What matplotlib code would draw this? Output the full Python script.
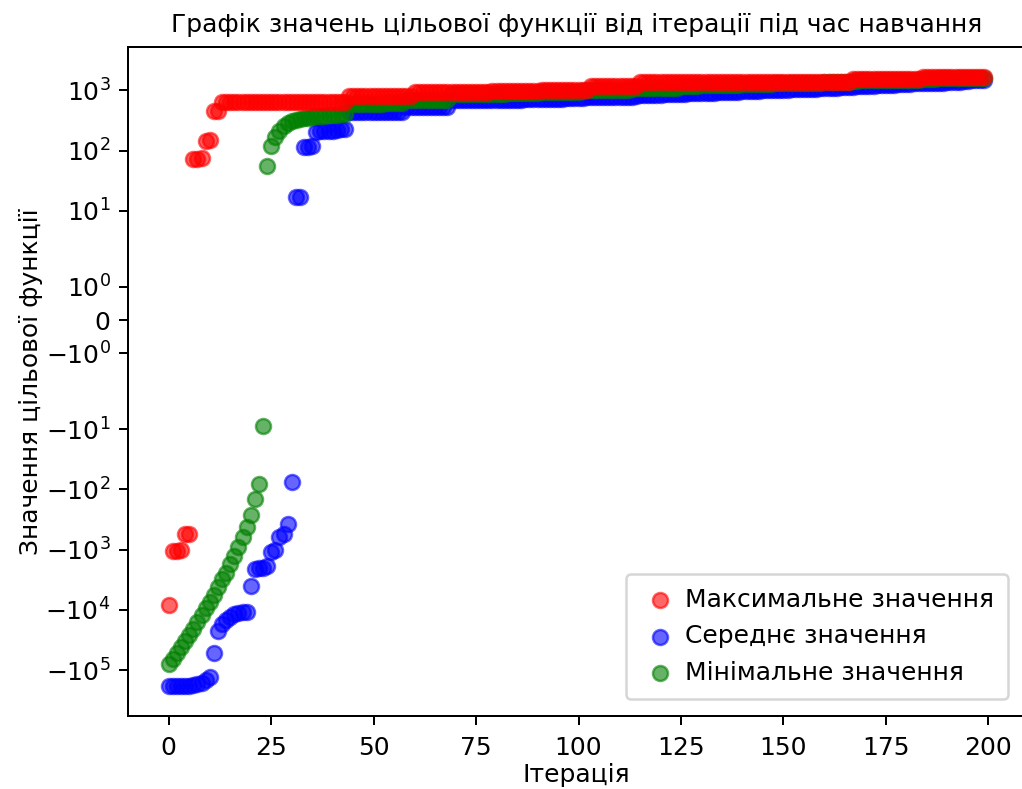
import matplotlib
matplotlib.use('Agg')
import matplotlib.pyplot as plt
import numpy as np

plt.rcParams['font.family'] = ['DejaVu Sans']

iterations = np.arange(200)

# максимальне значення (червоні)
max_values = [
    -8400, -1050, -1050, -1000, -560, -540, 72, 72, 75, 145,
    150, 455, 460, 640, 640, 640, 640, 640, 640, 640,
    640, 640, 640, 640, 640, 640, 640, 640, 640, 640,
    640, 640, 640, 640, 640, 640, 640, 640, 640, 640,
    640, 640, 640, 640, 815, 815, 815, 815, 815, 815,
    815, 815, 815, 815, 815, 815, 815, 815, 815, 815,
    925, 925, 925, 925, 925, 925, 925, 925, 925, 925,
    925, 925, 925, 925, 925, 925, 925, 925, 925, 960,
    960, 960, 960, 960, 960, 960, 960, 960, 960, 960,
    960, 1000, 1000, 1000, 1000, 1000, 1000, 1000, 1000, 1000,
    1000, 1000, 1000, 1200, 1200, 1200, 1200, 1200, 1200, 1200,
    1200, 1200, 1200, 1200, 1200, 1400, 1400, 1400, 1400, 1400,
    1400, 1400, 1400, 1400, 1400, 1400, 1400, 1400, 1400, 1400,
    1400, 1400, 1400, 1400, 1400, 1400, 1400, 1400, 1400, 1400,
    1400, 1400, 1400, 1400, 1400, 1400, 1400, 1400, 1400, 1400,
    1400, 1400, 1400, 1400, 1400, 1400, 1400, 1400, 1400, 1400,
    1400, 1400, 1400, 1400, 1400, 1400, 1400, 1540, 1540, 1540,
    1540, 1540, 1540, 1540, 1540, 1540, 1540, 1540, 1540, 1540,
    1540, 1540, 1540, 1540, 1640, 1640, 1640, 1640, 1640, 1640,
    1640, 1640, 1640, 1640, 1640, 1640, 1640, 1640, 1640, 1640,
]

# середнє значення (сині)
mean_values = [
    -180000, -180000, -180000, -180000, -180000, -180000, -175000, -170000, -160000, -145000,
    -130000, -52000, -22000, -17000, -14500, -13000, -11500, -11200, -11000, -11000,
    -4000, -2100, -2000, -2000, -1900, -1100, -1000, -620, -560, -380,
    -75, 17, 17, 115, 115, 118, 205, 208, 210, 212,
    215, 220, 225, 230, 430, 430, 430, 430, 432, 432,
    432, 432, 435, 435, 435, 435, 435, 435, 525, 525,
    525, 525, 528, 528, 528, 528, 530, 530, 530, 680,
    680, 680, 680, 680, 680, 680, 685, 685, 685, 685,
    688, 688, 690, 700, 703, 705, 705, 710, 712, 715,
    715, 718, 720, 722, 725, 728, 730, 735, 738, 740,
    745, 748, 770, 770, 770, 772, 772, 775, 775, 775,
    778, 778, 780, 780, 820, 825, 830, 835, 840, 845,
    850, 855, 860, 865, 870, 880, 885, 890, 895, 900,
    905, 910, 915, 920, 930, 935, 940, 945, 950, 955,
    960, 965, 975, 980, 990, 1000, 1000, 1005, 1010, 1015,
    1020, 1030, 1035, 1040, 1045, 1050, 1060, 1065, 1070, 1080,
    1085, 1090, 1100, 1110, 1120, 1130, 1140, 1150, 1160, 1170,
    1180, 1190, 1200, 1210, 1220, 1230, 1240, 1250, 1260, 1275,
    1280, 1290, 1300, 1305, 1310, 1320, 1325, 1330, 1340, 1350,
    1355, 1360, 1370, 1400, 1420, 1440, 1460, 1480, 1490, 1500,
]

# мінімальне значення (зелені)
min_values = [
    -78000, -65000, -51000, -41000, -33000, -26500, -21000, -16000, -12300, -9400,
    -7500, -5700, -4200, -3100, -2400, -1750, -1280, -900, -620, -420,
    -265, -145, -80, -9, 55, 118, 167, 210, 255, 286,
    309, 321, 334, 345, 353, 360, 370, 375, 380, 385,
    390, 395, 400, 405, 600, 600, 600, 600, 600, 605,
    605, 605, 605, 610, 610, 610, 610, 610, 680, 680,
    680, 680, 680, 685, 685, 685, 685, 690, 690, 870,
    870, 870, 870, 870, 875, 875, 875, 875, 880, 880,
    880, 880, 880, 900, 900, 905, 910, 910, 915, 920,
    920, 925, 930, 930, 935, 940, 940, 945, 950, 955,
    955, 960, 1020, 1020, 1020, 1020, 1025, 1025, 1025, 1030,
    1030, 1030, 1030, 1035, 1100, 1100, 1100, 1105, 1105, 1105,
    1105, 1110, 1110, 1115, 1115, 1180, 1185, 1190, 1195, 1200,
    1205, 1210, 1215, 1220, 1225, 1230, 1235, 1240, 1245, 1250,
    1255, 1260, 1265, 1270, 1275, 1280, 1290, 1295, 1300, 1305,
    1310, 1315, 1320, 1325, 1330, 1335, 1340, 1345, 1350, 1350,
    1355, 1360, 1360, 1365, 1365, 1370, 1370, 1450, 1455, 1460,
    1460, 1465, 1470, 1470, 1475, 1480, 1480, 1485, 1490, 1490,
    1495, 1495, 1500, 1500, 1560, 1565, 1570, 1570, 1575, 1580,
    1580, 1585, 1585, 1590, 1590, 1595, 1595, 1600, 1600, 1610,
]

DPI = 180
fig = plt.figure(figsize=(1022 / DPI, 789 / DPI), dpi=DPI)
ax = fig.add_axes([128 / 1022, 73 / 789, 897 / 1022, 669 / 789])

sc_mean = ax.scatter(iterations, mean_values, c='b', alpha=0.6,
                     label='Середнє значення')
sc_min = ax.scatter(iterations, min_values, c='g', alpha=0.6,
                    label='Мінімальне значення')
sc_max = ax.scatter(iterations, max_values, c='r', alpha=0.6,
                    label='Максимальне значення')

ax.set_yscale('symlog')
ax.set_title('Графік значень цільової функції від ітерації під час навчання',
             fontsize=10)
ax.set_xlabel('Ітерація', labelpad=1)
ax.set_ylabel('Значення цільової функції', labelpad=1)
ax.tick_params(axis='x', pad=4.5)
ax.legend(handles=[sc_max, sc_mean, sc_min], loc='lower right',
          handlelength=1.6, handletextpad=0.2, borderaxespad=0.7,
          borderpad=0.55)

plt.savefig('out.png', dpi=DPI)
